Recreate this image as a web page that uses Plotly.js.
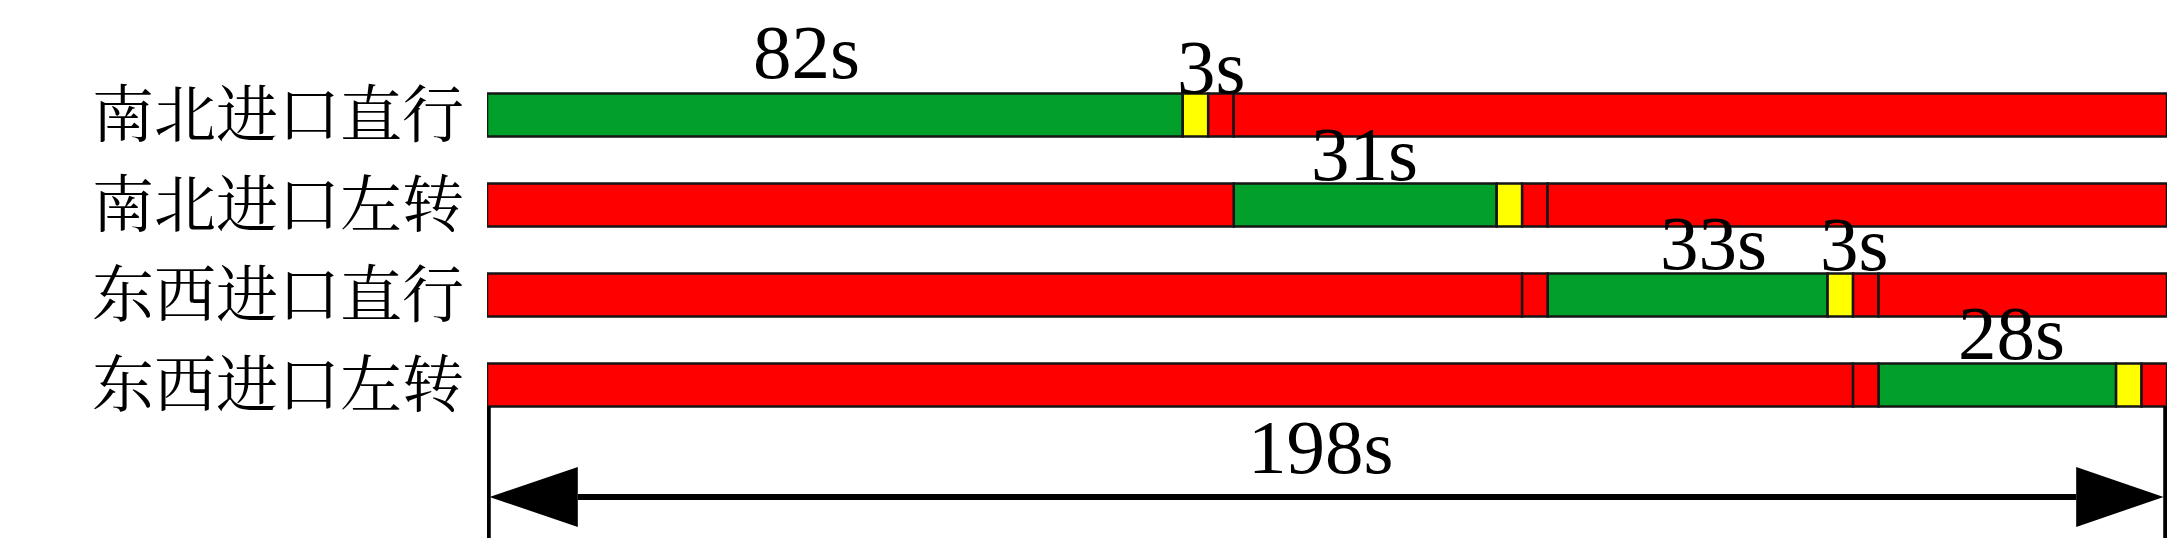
<!DOCTYPE html>
<html>
<head>
<meta charset="utf-8">
<script src="https://cdn.plot.ly/plotly-3.0.1.min.js"></script>
<style>
  html, body { margin: 0; padding: 0; background: #ffffff; }
  #chart { width: 2180px; height: 557px; }
</style>
</head>
<body>
<div id="chart"></div>
<script>
// ---------------- data ----------------
const categories = ['南北进口直行', '南北进口左转', '东西进口直行', '东西进口左转'];
const cycleLength = 198;
// segment durations (s) of each row, left to right
const segDur = [
  [82, 3, 3, 110],
  [88, 31, 3, 3, 73],
  [122, 3, 33, 3, 3, 34],
  [161, 3, 28, 3, 3]
];
// segment signal type: G = green, Y = yellow, R = red
const segType = [
  ['G', 'Y', 'R', 'R'],
  ['R', 'G', 'Y', 'R', 'R'],
  ['R', 'R', 'G', 'Y', 'R', 'R'],
  ['R', 'R', 'G', 'Y', 'R']
];
// duration labels: which row / which segment
const labelRow = [0, 0, 1, 2, 2, 3];
const labelSeg = [0, 1, 1, 2, 3, 2];

// ---------------- style ----------------
const colors = { G: '#02a02b', Y: '#ffff00', R: '#ff0000' };
const barW = 0.478;
const labelXShift = [-28, 16, -1, 26, 14, 14];
const labelYShift = [-3, -18, -15, -14, -15, -14];
const serif = 'Liberation Serif, Times New Roman, serif';
const numSize = 77;

// ---------------- build traces ----------------
const starts = segDur.map(row => {
  let acc = 0;
  return row.map(d => { const s = acc; acc += d; return s; });
});

const traces = ['G', 'Y', 'R'].map(t => {
  const y = [], x = [], base = [];
  segDur.forEach((row, r) => row.forEach((d, s) => {
    if (segType[r][s] === t) { y.push(categories[r]); x.push(d); base.push(starts[r][s]); }
  }));
  return {
    type: 'bar', orientation: 'h', y: y, x: x, base: base, width: barW,
    marker: { color: colors[t], line: { color: '#151515', width: 2.5 } },
    hoverinfo: 'skip', showlegend: false
  };
});

const annotations = labelRow.map((r, i) => {
  const s = labelSeg[i];
  return {
    xref: 'x', yref: 'y',
    x: starts[r][s] + segDur[r][s] / 2,
    y: r - barW / 2,
    text: segDur[r][s] + 's',
    showarrow: false, xanchor: 'center', yanchor: 'bottom',
    xshift: labelXShift[i], yshift: labelYShift[i],
    font: { family: serif, size: numSize, color: '#000' }
  };
});

// cycle dimension
const arrowY = 4.244;      // row-units below first row
const headLen = 10.7;      // seconds
const headHalf = 0.333;    // row-units
const lineBottom = 4.7;
const lineTop = categories.length - 1 + barW / 2;

annotations.push({
  xref: 'x', yref: 'y', x: cycleLength / 2, y: arrowY,
  text: cycleLength + 's', showarrow: false, xanchor: 'center', yanchor: 'bottom',
  xshift: -7, yshift: 5,
  font: { family: serif, size: numSize, color: '#000' }
});

const shapes = [
  { type: 'line', xref: 'x', yref: 'y', x0: 0.15, x1: 0.15, y0: lineTop, y1: lineBottom,
    line: { color: '#000', width: 5 } },
  { type: 'line', xref: 'x', yref: 'y', x0: cycleLength - 0.15, x1: cycleLength - 0.15, y0: lineTop, y1: lineBottom,
    line: { color: '#000', width: 5 } },
  { type: 'line', xref: 'x', yref: 'y', x0: headLen, x1: cycleLength - headLen, y0: arrowY, y1: arrowY,
    line: { color: '#000', width: 6 } },
  { type: 'path', xref: 'x', yref: 'y',
    path: `M 0.3 ${arrowY} L ${headLen} ${arrowY - headHalf} L ${headLen} ${arrowY + headHalf} Z`,
    fillcolor: '#000', line: { width: 0 } },
  { type: 'path', xref: 'x', yref: 'y',
    path: `M ${cycleLength - 0.4} ${arrowY} L ${cycleLength - headLen} ${arrowY - headHalf} L ${cycleLength - headLen} ${arrowY + headHalf} Z`,
    fillcolor: '#000', line: { width: 0 } }
];

const layout = {
  width: 2180, height: 557,
  margin: { l: 487, r: 13, t: 0, b: 0, pad: 0 },
  paper_bgcolor: '#ffffff', plot_bgcolor: '#ffffff',
  barmode: 'overlay',
  showlegend: false,
  xaxis: { range: [0, cycleLength], visible: false, fixedrange: true },
  yaxis: {
    type: 'category', categoryorder: 'array', categoryarray: categories,
    range: [4.911, -1.278],
    showgrid: false, zeroline: false, showline: false, ticks: '',
    ticklabelstandoff: 22,
    tickfont: { family: 'Noto Serif CJK SC, Noto Sans CJK SC, sans-serif', size: 62, color: '#000' },
    fixedrange: true
  },
  annotations: annotations,
  shapes: shapes
};

Plotly.newPlot('chart', traces, layout, { displayModeBar: false, staticPlot: true });
</script>
</body>
</html>
